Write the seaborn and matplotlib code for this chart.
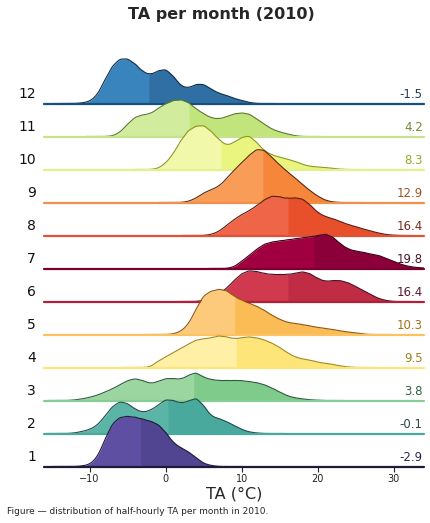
import numpy as np
import pandas as pd
import matplotlib
matplotlib.use("Agg")
import matplotlib.pyplot as plt
import seaborn as sns

# Monthly TA summaries
months = [1, 2, 3, 4, 5, 6, 7, 8, 9, 10, 11, 12]
ta_mean = [-2.9, -0.1, 3.8, 9.5, 10.3, 16.4, 19.8, 16.4, 12.9, 8.3, 4.2, -1.5]
ta_split = [-3.3, 0.3, 3.7, 9.3, 9.1, 16.1, 19.5, 16.1, 12.8, 7.3, 3.1, -2.2]

# Density profile per month, one value per 1 degC starting at grid_start
grid_start = [-12, -13, -13, -3, 0, 4, 8, 5, 2, -2, -8, -12]
dens_01 = [0, 0.5, 2, 9, 27, 44, 50, 51, 50, 48, 46, 43, 35, 24, 19, 15, 9, 3, 1, 0]
dens_02 = [0, 0.5, 2, 4, 8, 17, 27, 32, 30, 24, 21, 23, 28, 34, 33, 30, 32, 36, 28, 17,
           15, 12, 8, 4, 1.5, 0.5, 0]
dens_03 = [0, 0.5, 1.5, 3, 5, 8, 11, 15, 19, 21, 19, 16, 18, 21, 21, 20, 24, 27, 22, 20,
           19, 19, 19, 19, 18, 17, 15, 12, 8, 4.5, 2.5, 1.5, 0.7, 0.3, 0]
dens_04 = [0, 0.5, 6, 10, 14, 18, 22, 26, 27, 28, 30, 29, 27, 28, 29, 28, 26, 23, 19, 14,
           10, 8, 7, 5, 4, 3, 1.5, 0.5, 0]
dens_05 = [0, 0.5, 3, 10, 25, 39, 43, 45, 44, 38, 34, 31, 28, 24, 19, 15, 12, 11, 10, 8.5,
           7, 6, 5, 3.5, 2.5, 1.5, 0.5, 0]
dens_06 = [0, 1, 3, 7, 13, 21, 28, 31, 30, 28, 27, 27, 27, 28, 30, 28, 23, 20, 21, 21,
           19, 15, 11, 7, 3, 1, 0]
dens_07 = [0, 1.5, 7, 13, 19, 24, 26, 27, 28, 29, 30, 31, 32, 34, 31, 24, 19, 17, 16, 14,
           13, 10, 7, 4, 2, 1, 0.5]
dens_08 = [0, 1, 4, 10, 16, 21, 25, 30, 36, 40, 39, 37, 38, 37, 31, 23, 19, 17, 14, 11,
           9, 6.5, 4.5, 2.5, 1, 0.3]
dens_09 = [0, 1, 4, 9, 12, 15, 22, 30, 37, 44, 50, 49, 42, 35, 29, 23, 17, 11, 6, 2,
           0.5, 0]
dens_10 = [0, 1, 6, 15, 28, 38, 42, 43, 37, 29, 23, 26, 31, 33, 26, 18, 14, 12, 10, 8,
           5, 3, 2.5, 2, 1, 0.3]
dens_11 = [0, 0.5, 4, 12, 19, 21, 22, 27, 32, 35, 36, 33, 27, 22, 18, 17, 19, 22, 23, 22,
           17, 12, 7, 4.5, 2.5, 0.8, 0]
dens_12 = [0, 0.5, 2, 8, 23, 37, 44, 44, 39, 31, 28, 32, 34, 27, 17, 15, 19, 19, 14, 10,
           8, 5, 3, 1, 0]
dens_all = [dens_01, dens_02, dens_03, dens_04, dens_05, dens_06,
            dens_07, dens_08, dens_09, dens_10, dens_11, dens_12]

# colours per month (left of split / right of split / outline / value label / baseline)
col_left = ['#5e4fa2', '#5bb5a6', '#9bd6a1', '#fff0a6', '#fdca7b', '#d1394e',
            '#a0003f', '#ef6548', '#f99c58', '#f2f8aa', '#d1ec9c', '#3984bd']
col_right = ['#514491', '#4aa99d', '#7ecb8b', '#fee57a', '#fbbb55', '#c02c43',
             '#8c0039', '#e8502c', '#f6863a', '#e9f57e', '#c1e47c', '#2f6fa3']
col_edge = ['#1d1a3a', '#1f4a48', '#2d5a3c', '#a08a1e', '#8a5a10', '#4a0f20',
            '#3a0018', '#5a1a10', '#5a2a10', '#8a9a1a', '#5a7a2a', '#102a48']
col_label = ['#2a2848', '#2a4646', '#2f5f3f', '#9a8420', '#a6701a', '#5a1a2a',
             '#4a1a2a', '#7c2a20', '#a0521e', '#9aa824', '#6b8e2f', '#1f3c5a']
col_base = ['#1d1a3a', '#4aa99d', '#88cc95', '#fee57a', '#fcc260', '#b02038',
            '#7a0030', '#e0503a', '#f0904a', '#e6f08a', '#c5e48a', '#15507f']

# long-form table
rows = []
for m, start, dens in zip(months, grid_start, dens_all):
    for i, d in enumerate(dens):
        rows.append((m, start + i, d))
df = pd.DataFrame(rows, columns=['month', 'ta', 'weight'])

sns.set_theme(style="white", rc={"axes.facecolor": (0, 0, 0, 0)})
plt.rcParams['font.family'] = ['DejaVu Sans']

fig = plt.figure(figsize=(4.31, 5.23), dpi=100)
axes = fig.subplots(12, 1, sharex=True)
fig.subplots_adjust(left=44 / 431, right=424 / 431, bottom=56.5 / 523,
                    top=(56.5 + 429) / 523, hspace=-0.5)

ymax = 66 / 470.0
row_order = months[::-1]  # December at the top

for ax, m in zip(axes, row_order):
    i = months.index(m)
    sub = df[df['month'] == m]
    w = sub['weight'].to_numpy()
    x = sub['ta'].to_numpy()
    mu = np.sum(w * x) / np.sum(w)
    sd = np.sqrt(np.sum(w * (x - mu) ** 2) / np.sum(w))
    kw = dict(x=sub['ta'], weights=sub['weight'], bw_method=0.55 / sd, ax=ax, gridsize=400)

    sns.kdeplot(**kw, fill=True, clip=(-16, 34), color=col_left[i], alpha=1, linewidth=0)
    sns.kdeplot(**kw, fill=True, clip=(ta_split[i], 34), color=col_right[i], alpha=1, linewidth=0)
    sns.kdeplot(**kw, clip=(-16, 34), color=col_edge[i], linewidth=0.8)
    ax.axhline(0, color=col_base[i], linewidth=1.6, clip_on=False)

    ax.set_xlim(-16, 34)
    ax.set_ylim(0, ymax)
    ax.set_yticks([])
    ax.set_ylabel('')
    ax.set_xlabel('')
    for s in ax.spines.values():
        s.set_visible(False)
    ax.patch.set_alpha(0)

    ax.text(-0.021, 0.035, str(m), transform=ax.transAxes, ha='right', va='bottom',
            fontsize=10, color='#111111')
    ax.text(0.997, 0.035, f"{ta_mean[i]:.1f}", transform=ax.transAxes, ha='right',
            va='bottom', fontsize=8.5, color=col_label[i])

    if m != 1:
        ax.tick_params(bottom=False, labelbottom=False)

bottom_ax = axes[-1]
bottom_ax.set_xticks([-10, 0, 10, 20, 30])
bottom_ax.tick_params(axis='x', bottom=True, length=3.5, width=0.8, color='#222222',
                      labelsize=7, pad=2, labelcolor='#222222')
bottom_ax.set_xlabel('TA (°C)', fontsize=11.5, labelpad=2)

fig.text(0.513, 1 - 14 / 523, 'TA per month (2010)', ha='center', va='center',
         fontsize=11.5, fontweight='bold')
fig.text(7 / 431, 1 - 511 / 523,
         'Figure — distribution of half-hourly TA per month in 2010.',
         ha='left', va='center', fontsize=6.5)

fig.savefig('out.png', dpi=100)
